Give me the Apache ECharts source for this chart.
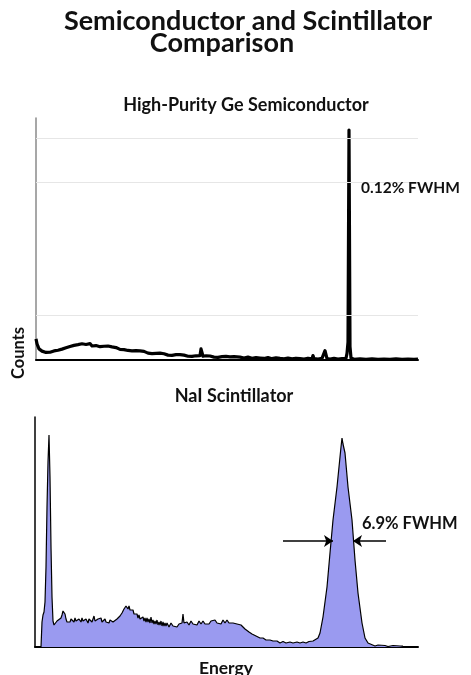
<!DOCTYPE html>
<html>
<head>
<meta charset="utf-8">
<script src="https://cdn.jsdelivr.net/npm/echarts@6/dist/echarts.min.js"></script>
<style>html,body{margin:0;padding:0;background:#fff;}#chart{width:471px;height:675px;}</style>
</head>
<body>
<div id="chart"></div>
<script>
// ---- Data: [channel (arbitrary energy units), counts (arbitrary units)] ----
var geSpectrum = [[0,9.5],[1,7.3],[2,6.1],[3,5.0],[4,5.4],[6,4.0],[8,4.3],[10,3.4],[12,4.2],[14,3.5],[16,3.6],[18,4.1],[20,3.5],[22,4.4],[24,4.0],[26,4.9],[28,4.6],[30,5.5],[32,5.2],[34,6.1],[36,5.8],[38,6.6],[40,6.1],[42,6.9],[44,6.5],[46,7.3],[48,6.4],[50,7.0],[52,6.8],[54,7.4],[56,6.3],[58,7.1],[60,6.5],[62,6.9],[64,6.0],[66,6.6],[68,6.2],[70,5.7],[72,6.3],[74,5.6],[76,5.9],[78,5.1],[80,5.6],[82,5.3],[84,4.8],[86,5.4],[88,4.7],[90,4.9],[92,4.3],[94,4.8],[96,4.1],[98,4.4],[100,4.2],[102,3.6],[104,4.1],[106,3.4],[108,3.9],[110,3.6],[112,3.1],[114,3.6],[116,2.9],[118,3.3],[120,3.0],[122,2.6],[124,3.1],[126,2.5],[128,2.8],[130,2.7],[132,2.2],[134,2.7],[136,2.1],[138,2.5],[140,2.4],[142,1.9],[144,2.4],[146,1.8],[148,2.2],[150,2.1],[152,1.7],[154,2.2],[156,1.6],[158,2.0],[160,1.9],[162,1.5],[164,2.0],[165,5.0],[166,5.2],[167,1.7],[170,1.9],[172,1.4],[174,1.8],[176,1.6],[178,1.3],[180,1.8],[182,1.2],[184,1.6],[186,1.5],[188,1.1],[190,1.6],[192,1.2],[194,1.4],[196,1.0],[198,1.5],[200,1.1],[204,1.3],[208,0.9],[212,1.3],[216,0.8],[220,1.1],[224,0.9],[228,0.7],[232,1.1],[236,0.6],[240,1.0],[244,0.7],[248,0.5],[252,0.9],[256,0.5],[260,0.8],[264,0.6],[268,0.4],[272,0.8],[276,0.5],[277,2.0],[278,0.6],[282,0.4],[286,0.7],[288,0.5],[289,4.2],[290,4.3],[291,0.6],[294,0.4],[298,0.7],[302,0.4],[306,0.6],[310,0.8],[311,3.0],[312,8.0],[313,103.6],[314,6.0],[315,0.9],[318,0.3],[324,0.5],[330,0.3],[336,0.5],[342,0.3],[348,0.4],[354,0.3],[360,0.5],[366,0.3],[372,0.4],[378,0.3],[382,0.4]];
var geGridValues = [20, 80, 100];

var naiSpectrum = [[6,0],[7,25],[8,32],[9,35],[10,45],[11,80],[12,140],[13,185],[14,212],[15,170],[16,100],[17,50],[18,26],[19,22],[20,24],[21,23],[22,26],[24,25],[26,29],[27,32],[28,36],[29,38],[30,33],[31,28],[32,25],[33,27],[34,26],[35,25],[36,28],[37,26],[38,27],[39,25],[40,29],[41,26],[42,27],[43,26],[44,28],[45,27],[46,25],[47,29],[48,26],[49,27],[50,25],[51,28],[52,27],[53,24],[54,28],[55,26],[56,27],[57,25],[58,28],[59,31],[60,26],[61,27],[62,25],[63,28],[64,26],[65,27],[66,29],[67,25],[68,27],[69,26],[70,28],[71,25],[72,27],[73,26],[74,24],[75,27],[76,26],[77,28],[78,25],[79,27],[80,26],[82,28],[84,27],[85,31],[86,30],[87,34],[88,33],[89,38],[90,36],[91,41],[92,43],[93,38],[94,41],[95,37],[96,39],[97,35],[98,37],[99,33],[100,35],[101,31],[102,33],[103,29],[104,32],[105,28],[106,30],[107,27],[108,30],[109,26],[110,29],[111,25],[112,29],[113,25],[114,28],[115,24],[116,30],[117,24],[118,27],[119,23],[120,26],[121,23],[122,27],[123,22],[124,25],[125,22],[126,26],[127,21],[128,25],[129,21],[130,24],[131,21],[132,24],[134,20],[136,24],[138,21],[140,23],[142,20],[144,23],[146,22],[147,24],[148,33],[149,24],[150,22],[152,25],[154,22],[156,26],[158,23],[160,25],[162,22],[164,26],[166,23],[168,26],[170,23],[172,25],[174,23],[176,26],[178,24],[180,27],[182,24],[184,26],[186,23],[188,27],[190,24],[192,27],[194,24],[196,26],[198,24],[200,26],[202,23],[204,25],[206,22],[208,20],[210,18],[212,17],[214,15],[215,15],[217,13],[219,13],[221,11],[222,11],[225,9],[228,9],[231,7],[235,7],[238,6],[242,6],[245,4],[248,5.5],[251,4],[255,5],[258,4],[262,5],[265,4],[268,5],[271,4],[274,5.5],[276,5],[278,6],[280,7],[283,9],[285,14],[288,30],[292,60],[295,94],[298,127],[302,160],[305,190],[306,200],[307,209],[308,203],[310,194],[313,160],[317,127],[320,87],[323,54],[327,24],[330,9],[333,4],[335,2],[340,1],[343,2],[345,1],[350,1.5],[353,0.5],[355,1],[358,1.5],[360,0.5],[365,1],[368,1]];

// FWHM arrows in data coordinates: [fromChannel, toChannel, atCount]
var fwhmArrowLeft  = [248, 298, 106];
var fwhmArrowRight = [351, 318, 106];

var titleLines = ['Semiconductor and Scintillator', 'Comparison'];
var panelTitles = ['High-Purity Ge Semiconductor', 'NaI Scintillator'];
var fwhmLabels = ['0.12% FWHM', '6.9% FWHM'];
var axisNames = ['Energy', 'Counts'];

var FONT = 'Lato, "Open Sans", sans-serif';
var chart = echarts.init(document.getElementById('chart'), null, {renderer: 'canvas'});

function txt(text, x, y, size, align, rot) {
  return {
    type: 'text', x: x, y: y, rotation: rot || 0, z: 100,
    style: { text: text, fill: '#111', font: 'bold ' + size + 'px ' + FONT,
             align: align || 'center', verticalAlign: 'middle' }
  };
}

chart.setOption({
  animation: false,
  backgroundColor: '#fff',
  grid: [
    { left: 36, top: 118, width: 382, height: 242 },
    { left: 35, top: 417, width: 383, height: 230 }
  ],
  xAxis: [
    { type: 'value', gridIndex: 0, min: 0, max: 382,
      axisLine: { show: true, onZero: false, lineStyle: { color: '#000', width: 2 } },
      axisTick: { show: false }, axisLabel: { show: false }, splitLine: { show: false } },
    { type: 'value', gridIndex: 1, min: 0, max: 383,
      axisLine: { show: true, onZero: false, lineStyle: { color: '#000', width: 2 } },
      axisTick: { show: false }, axisLabel: { show: false }, splitLine: { show: false } }
  ],
  yAxis: [
    { type: 'value', gridIndex: 0, min: 0, max: 109,
      axisLine: { show: true, onZero: false, lineStyle: { color: '#8a8a8a', width: 1.5 } },
      axisTick: { show: false }, axisLabel: { show: false }, splitLine: { show: false } },
    { type: 'value', gridIndex: 1, min: 0, max: 230,
      axisLine: { show: true, onZero: false, lineStyle: { color: '#000', width: 1.5 } },
      axisTick: { show: false }, axisLabel: { show: false }, splitLine: { show: false } }
  ],
  series: [
    { type: 'line', xAxisIndex: 0, yAxisIndex: 0, data: geSpectrum,
      showSymbol: false, symbol: 'none', lineStyle: { color: '#000', width: 3.2, join: 'round' },
      markLine: { silent: true, symbol: 'none', label: { show: false },
        lineStyle: { color: '#e6e6e6', width: 1, type: 'solid' },
        data: geGridValues.map(function (v) { return { yAxis: v }; }) },
      z: 3 },
    { type: 'line', xAxisIndex: 1, yAxisIndex: 1, data: naiSpectrum,
      showSymbol: false, symbol: 'none', lineStyle: { color: '#000', width: 1.2 },
      areaStyle: { color: '#9a9af0', opacity: 1 },
      markLine: { silent: true, symbol: ['none', 'arrow'], symbolSize: [9, 9], label: { show: false },
        lineStyle: { color: '#000', width: 1.6, type: 'solid' },
        data: [
          [{ coord: [fwhmArrowLeft[0], fwhmArrowLeft[2]] }, { coord: [fwhmArrowLeft[1], fwhmArrowLeft[2]] }],
          [{ coord: [fwhmArrowRight[0], fwhmArrowRight[2]] }, { coord: [fwhmArrowRight[1], fwhmArrowRight[2]] }]
        ] },
      z: 3 }
  ],
  graphic: [
    txt(titleLines[0], 248, 21, 27),
    txt(titleLines[1], 222, 43, 27),
    txt(panelTitles[0], 246, 105, 18),
    txt(panelTitles[1], 234, 396, 18),
    txt(fwhmLabels[0], 361, 188, 15.5, 'left'),
    txt(fwhmLabels[1], 362, 524, 16.5, 'left'),
    txt(axisNames[0], 226, 668, 17.5),
    txt(axisNames[1], 19, 353, 16.5, 'center', Math.PI / 2)
  ]
});
</script>
</body>
</html>
